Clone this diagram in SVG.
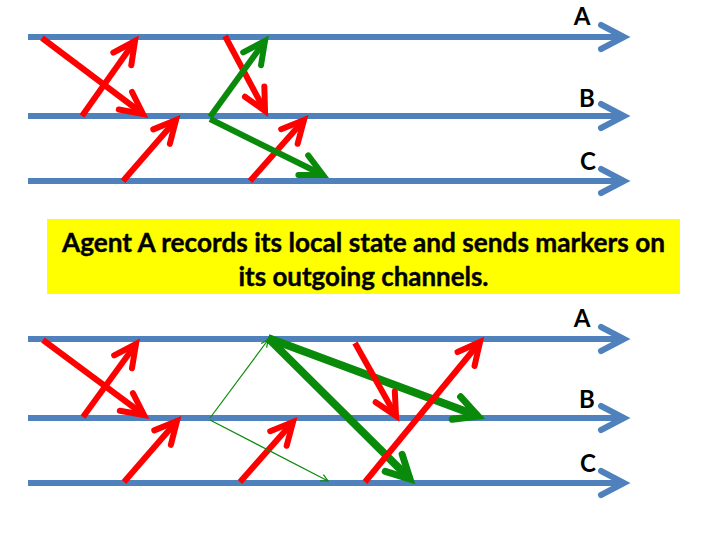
<svg xmlns="http://www.w3.org/2000/svg" width="720" height="540" viewBox="0 0 720 540">
<style>
.tl{stroke:#4F81BD;stroke-width:6;fill:none;marker-end:url(#mb)}
.lbl{font-family:Lato,"Liberation Sans",sans-serif;font-weight:bold;font-size:24px;fill:#000;text-anchor:middle}
.r{stroke:#FF0000;stroke-width:6;fill:none;marker-end:url(#mr)}
.g{stroke:#0A8A0A;stroke-width:6;fill:none;marker-end:url(#mg)}
.gk{stroke:#0A8A0A;stroke-width:8;fill:none;marker-end:url(#mgk)}
.gt{stroke:#0A8A0A;stroke-width:1.2;fill:none;marker-end:url(#mgt)}
.cap{font-family:Lato,"Liberation Sans",sans-serif;font-weight:bold;font-size:27px;fill:#000;stroke:#000;stroke-width:0.4;text-anchor:middle}
</style>
<defs>
<marker id="mb" markerUnits="userSpaceOnUse" viewBox="-30 -16 36 32" markerWidth="36" markerHeight="32" refX="0" refY="0" orient="auto" overflow="visible">
<path d="M-23,-12 L0,0 L-23,12" fill="none" stroke="#4F81BD" stroke-width="6" stroke-linejoin="miter" stroke-linecap="round"/>
</marker>
<marker id="mr" markerUnits="userSpaceOnUse" viewBox="-30 -16 36 32" markerWidth="36" markerHeight="32" refX="0" refY="0" orient="auto" overflow="visible">
<path d="M-22,-11 L0,0 L-22,11" fill="none" stroke="#FF0000" stroke-width="6" stroke-linejoin="miter" stroke-linecap="round"/>
</marker>
<marker id="mg" markerUnits="userSpaceOnUse" viewBox="-30 -16 36 32" markerWidth="36" markerHeight="32" refX="0" refY="0" orient="auto" overflow="visible">
<path d="M-22,-11 L0,0 L-22,11" fill="none" stroke="#0A8A0A" stroke-width="6" stroke-linejoin="miter" stroke-linecap="round"/>
</marker>
<marker id="mgk" markerUnits="userSpaceOnUse" viewBox="-30 -16 36 32" markerWidth="36" markerHeight="32" refX="0" refY="0" orient="auto" overflow="visible">
<path d="M-23,-12 L0,0 L-23,12" fill="none" stroke="#0A8A0A" stroke-width="7" stroke-linejoin="miter" stroke-linecap="round"/>
</marker>
<marker id="mgt" markerUnits="userSpaceOnUse" viewBox="-10 -5 12 10" markerWidth="12" markerHeight="10" refX="0" refY="0" orient="auto" overflow="visible">
<path d="M-7,-3.5 L0,0 L-7,3.5" fill="none" stroke="#0A8A0A" stroke-width="1.2"/>
</marker>
</defs>
<rect width="720" height="540" fill="#fff"/>

<g id="top-A"><line class="tl" x1="28" y1="37" x2="624" y2="37"/><text class="lbl" x="582" y="25">A</text></g>
<g id="top-B"><line class="tl" x1="28" y1="116" x2="624" y2="116"/><text class="lbl" x="587" y="107">B</text></g>
<g id="top-C"><line class="tl" x1="28" y1="181" x2="624" y2="181"/><text class="lbl" x="588" y="170">C</text></g>

<g id="caption">
<rect x="47" y="219" width="633" height="75" fill="#FFFF00"/>
<text class="cap" x="363.5" y="252" textLength="603" lengthAdjust="spacingAndGlyphs">Agent A records its local state and sends markers on</text>
<text class="cap" x="363.5" y="286" textLength="250" lengthAdjust="spacingAndGlyphs">its outgoing channels.</text>
</g>

<g id="bottom-A"><line class="tl" x1="28" y1="339" x2="624" y2="339"/><text class="lbl" x="582" y="327">A</text></g>
<g id="bottom-B"><line class="tl" x1="28" y1="418" x2="624" y2="418"/><text class="lbl" x="587" y="408">B</text></g>
<g id="bottom-C"><line class="tl" x1="28" y1="483" x2="624" y2="483"/><text class="lbl" x="588" y="472">C</text></g>

<g id="connectors">
<line class="r" x1="42" y1="38" x2="143" y2="114"/>
<line class="r" x1="82" y1="116" x2="135" y2="41"/>
<line class="r" x1="123" y1="181" x2="176" y2="120"/>
<line class="r" x1="225" y1="36" x2="265" y2="111"/>
<line class="r" x1="250" y1="181" x2="304" y2="120"/>
<line class="g" x1="210" y1="117" x2="265" y2="41"/>
<line class="g" x1="210" y1="119" x2="323" y2="175"/>

<line class="r" x1="43" y1="340" x2="144" y2="415"/>
<line class="r" x1="83" y1="417" x2="136" y2="344"/>
<line class="r" x1="124" y1="482" x2="177" y2="421"/>
<line class="r" x1="240" y1="482" x2="293" y2="422"/>
<line class="gt" x1="210" y1="418" x2="268" y2="340"/>
<line class="gt" x1="210" y1="420" x2="328" y2="481"/>
<line class="gk" x1="268" y1="338" x2="478" y2="416"/>
<line class="gk" x1="268" y1="338" x2="410" y2="479"/>
<line class="r" x1="355" y1="343" x2="396" y2="416"/>
<line class="r" x1="365" y1="482" x2="480" y2="342"/>
</g>
</svg>
